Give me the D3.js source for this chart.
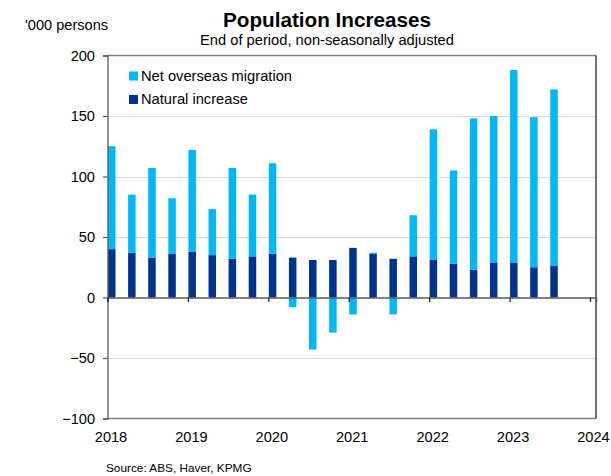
<!DOCTYPE html>
<html>
<head>
<meta charset="utf-8">
<script src="https://cdn.jsdelivr.net/npm/d3@7"></script>
<style>
  html, body { margin: 0; padding: 0; background: #fff; }
  svg { display: block; font-family: "Liberation Sans", Arial, sans-serif; }
</style>
</head>
<body>
<svg id="chart" width="611" height="476"></svg>
<script>
// Quarterly population change, '000 persons (end of period, NSA)
const quarters = [
  "2018-Q1","2018-Q2","2018-Q3","2018-Q4",
  "2019-Q1","2019-Q2","2019-Q3","2019-Q4",
  "2020-Q1","2020-Q2","2020-Q3","2020-Q4",
  "2021-Q1","2021-Q2","2021-Q3","2021-Q4",
  "2022-Q1","2022-Q2","2022-Q3","2022-Q4",
  "2023-Q1","2023-Q2","2023-Q3"
];
const naturalIncrease = [40, 37, 33, 36, 38, 35, 32, 34, 36, 33, 31, 31, 41, 36, 32, 34, 31, 28, 23, 29, 29, 25, 26];
const netOverseasMigration = [85, 48, 74, 46, 84, 38, 75, 51, 75, -8, -43, -29, -14, 1, -14, 34, 108, 77, 125, 121, 159, 124, 146];

const seriesNames = ["Net overseas migration", "Natural increase"];
const seriesColors = ["#00B8F5", "#00338D"];
const yTicks = [-100, -50, 0, 50, 100, 150, 200];
const xTickYears = [2018, 2019, 2020, 2021, 2022, 2023, 2024];

const svg = d3.select("#chart");
const plot = { left: 107.5, right: 596, top: 55.5, bottom: 418.5 };

// quarter label -> decimal year at the start of the quarter
const qStart = q => +q.slice(0, 4) + (+q.slice(6) - 1) / 4;

const x = d3.scaleLinear()
  .domain([2018, 2024.075])
  .range([plot.left, plot.right]);
const y = d3.scaleLinear()
  .domain([-100, 200])
  .range([plot.bottom, plot.top]);

const rows = quarters.map((q, i) => ({
  q, t: qStart(q), natural: naturalIncrease[i], nom: netOverseasMigration[i]
}));
const stack = d3.stack()
  .keys(["natural", "nom"])
  .offset(d3.stackOffsetDiverging);
const layers = stack(rows);

// gridlines
svg.append("g").selectAll("line")
  .data(yTicks.filter(v => v !== 0 && v !== 200 && v !== -100))
  .join("line")
  .attr("x1", plot.left).attr("x2", plot.right)
  .attr("y1", d => Math.round(y(d)) + 0.5).attr("y2", d => Math.round(y(d)) + 0.5)
  .attr("stroke", "#d9d9d9").attr("stroke-width", 1);

// bars
const barW = 7.5;
const colorOf = { natural: seriesColors[1], nom: seriesColors[0] };
svg.append("g").selectAll("g")
  .data(layers)
  .join("g")
  .attr("fill", d => colorOf[d.key])
  .selectAll("rect")
  .data(d => d)
  .join("rect")
  .attr("x", d => x(d.data.t) + 0.5)
  .attr("width", barW)
  .attr("y", d => y(Math.max(d[0], d[1])))
  .attr("height", d => Math.abs(y(d[0]) - y(d[1])));

// plot frame
const frame = svg.append("g").attr("fill", "none");
frame.append("line")
  .attr("x1", plot.left).attr("x2", plot.right)
  .attr("y1", plot.top).attr("y2", plot.top)
  .attr("stroke", "#7f7f7f").attr("stroke-width", 1.3);
frame.append("line")
  .attr("x1", plot.left).attr("x2", plot.right)
  .attr("y1", plot.bottom).attr("y2", plot.bottom)
  .attr("stroke", "#7f7f7f").attr("stroke-width", 1.3);
frame.append("line")
  .attr("x1", plot.right).attr("x2", plot.right)
  .attr("y1", plot.top).attr("y2", plot.bottom)
  .attr("stroke", "#262626").attr("stroke-width", 1.3);

// y axis
const yAxis = d3.axisLeft(y).tickValues(yTicks).tickSize(4.5).tickPadding(8);
const gy = svg.append("g")
  .attr("transform", `translate(${plot.left},0)`)
  .call(yAxis);
gy.select(".domain").attr("stroke", "#595959").attr("stroke-width", 1.3);
gy.selectAll(".tick line").attr("stroke", "#595959").attr("stroke-width", 1.2);
gy.selectAll(".tick text")
  .attr("font-size", "14.6px").attr("fill", "#000")
  .attr("font-family", "'Liberation Sans', Arial, sans-serif");

// x axis on the zero line, labels along the bottom
const gx = svg.append("g")
  .attr("transform", `translate(0,${y(0)})`)
  .call(d3.axisBottom(x).tickValues(xTickYears).tickSize(4.5).tickFormat(""));
gx.select(".domain").attr("stroke", "#595959").attr("stroke-width", 1.3);
gx.selectAll(".tick line").attr("stroke", "#262626").attr("stroke-width", 1.3);

svg.append("g").selectAll("text")
  .data(xTickYears)
  .join("text")
  .attr("x", d => x(d) + 3.5)
  .attr("y", 441.5)
  .attr("text-anchor", "middle")
  .attr("font-size", "14.6px")
  .attr("fill", "#000")
  .text(d => d);

// titles
svg.append("text")
  .attr("x", 327).attr("y", 27)
  .attr("text-anchor", "middle")
  .attr("font-size", "20.7px").attr("font-weight", "bold")
  .text("Population Increases");
svg.append("text")
  .attr("x", 327).attr("y", 44.5)
  .attr("text-anchor", "middle")
  .attr("font-size", "14.7px")
  .text("End of period, non-seasonally adjusted");
svg.append("text")
  .attr("x", 25).attr("y", 30)
  .attr("font-size", "14.6px")
  .text("'000 persons");

// legend
const legend = svg.append("g").selectAll("g")
  .data(seriesNames)
  .join("g")
  .attr("transform", (d, i) => `translate(129,${71.5 + i * 23.5})`);
legend.append("rect")
  .attr("width", 9).attr("height", 9)
  .attr("fill", (d, i) => seriesColors[i]);
legend.append("text")
  .attr("x", 12).attr("y", 9)
  .attr("font-size", "14.7px")
  .text(d => d);

// source
svg.append("text")
  .attr("x", 106).attr("y", 471.5)
  .attr("font-size", "11.8px")
  .text("Source: ABS, Haver, KPMG");
</script>
</body>
</html>
